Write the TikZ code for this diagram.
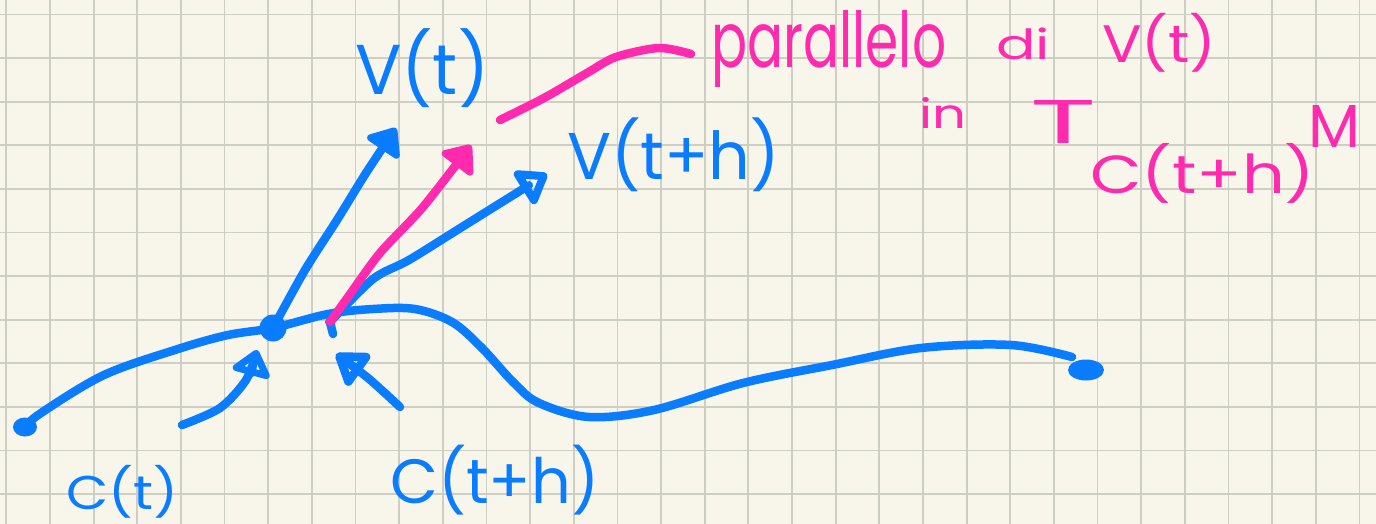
\documentclass[tikz,border=0pt]{standalone}
\usepackage{fontspec}
\setmainfont{Poppins}
\newfontfamily\hand{Poppins}
\usepackage{graphicx}
\usetikzlibrary{arrows.meta,shapes.geometric}
\definecolor{bg}{RGB}{248,246,234}
\definecolor{gridc}{RGB}{206,207,196}
\definecolor{ink}{RGB}{10,124,255}
\definecolor{pk}{RGB}{255,42,174}
\newcommand\hwtext[3]{\resizebox*{#1pt}{#2pt}{\hand #3}}
\tikzset{
  gridline/.style={gridc, line width=1.8pt},
  pen/.style={ink, line width=8.5pt, line cap=round, line join=round},
  pinkpen/.style={pk, line width=8.5pt, line cap=round, line join=round},
  openhead/.style={-{Triangle[open,round,length=#1pt,width=44pt]}},
  fullhead/.style={-{Triangle[round,length=#1pt,width=44pt]}},
  lbl/.style={inner sep=0pt, anchor=north west},
}
\begin{document}
\begin{tikzpicture}[x=1pt,y=-1pt]
\fill[bg] (0,0) rectangle (1376,524);
\useasboundingbox (0,0) rectangle (1376,524);
\foreach \i in {0,...,31} \draw[gridline] ({6.3+43.65*\i},0) -- ({6.3+43.65*\i},524);
\foreach \j in {0,...,11} \draw[gridline] (0,{14.5+43.6*\j}) -- (1376,{14.5+43.6*\j});

% points on the curve
\node[ink, fill, ellipse, minimum width=24pt, minimum height=19pt, inner sep=0pt] (L) at (25,427) {};
\node[ink, fill, circle, minimum size=27pt, inner sep=0pt] (P) at (273,328) {};
\node[ink, fill, circle, minimum size=10pt, inner sep=0pt] (Q) at (330,322) {};
\node[ink, fill, ellipse, minimum width=36pt, minimum height=21pt, inner sep=0pt] (R) at (1086,370) {};

% the curve
\draw[pen] plot[smooth, tension=0.55] coordinates {(L.center) (41,413) (104,375) (178,349) (228,335) (P.center) (328,314) (373,309) (415,309) (452,322) (481,347) (514,383) (539,403) (589,417) (654,410) (743,383) (832,365) (921,348) (1011,345) (1072,357)};
\draw[pen] (Q.center) -- (333,334);

% arrow tips (free ends)
\coordinate (tipV) at (396,128);
\coordinate (tipP) at (471,145);
\coordinate (tipW) at (547,174);
\coordinate (tipC) at (257,350);
\coordinate (tipD) at (336,354);
\coordinate (tailC) at (182,425);
\coordinate (tailD) at (400,407);

% vectors
\draw[pen, fullhead=28] plot[smooth] coordinates {(P.center) (305,270) (337,220) (366,173) (tipV)};
\draw[pen, openhead=32] plot[smooth] coordinates {(Q.center) (373,279) (409,260) (462,227) (tipW)};
\draw[pinkpen, fullhead=28] plot[smooth] coordinates {(Q.center) (348,297) (380,253) (423,207) (tipP)};

% pointers to the points
\draw[pen, openhead=28] plot[smooth] coordinates {(tailC) (220,408) (246,380) (tipC)};
\draw[pen, openhead=34] plot[smooth] coordinates {(tailD) (368,378) (tipD)};

% labels
\node[lbl, ink] (Vt) at (355,28) {\hwtext{134}{79}{V(t)}};
\node[lbl, ink] (Vth) at (567,118) {\hwtext{213}{74}{V(t+h)}};
\node[lbl, ink] (Ct) at (66,465) {\hwtext{112}{53}{C(t)}};
\node[lbl, ink] (Cth) at (390,445) {\hwtext{209}{70}{C(t+h)}};

\node[lbl, pk] (par) at (711,10) {\hwtext{235}{77}{parallelo}};
\node[lbl, pk] (di) at (996,28) {\hwtext{54}{32}{di}};
\node[lbl, pk] (Vp) at (1102,13) {\hwtext{114}{59}{V(t)}};
\node[lbl, pk] (in) at (919,97) {\hwtext{47}{31}{in}};
\node[lbl, pk] (T) at (1030,100) {\hwtext{66}{43}{T}};
\node[lbl, pk] (sub) at (1090,143) {\hwtext{225}{60}{C(t+h)}};
\node[lbl, pk] (M) at (1308,105) {\hwtext{52}{42}{M}};

% pink leader
\coordinate (leadA) at (500,120);
\coordinate (leadB) at (691,54);
\draw[pinkpen] plot[smooth] coordinates {(leadA) (544,98) (587,73) (616,57) (659,48) (leadB)};
\end{tikzpicture}
\end{document}
